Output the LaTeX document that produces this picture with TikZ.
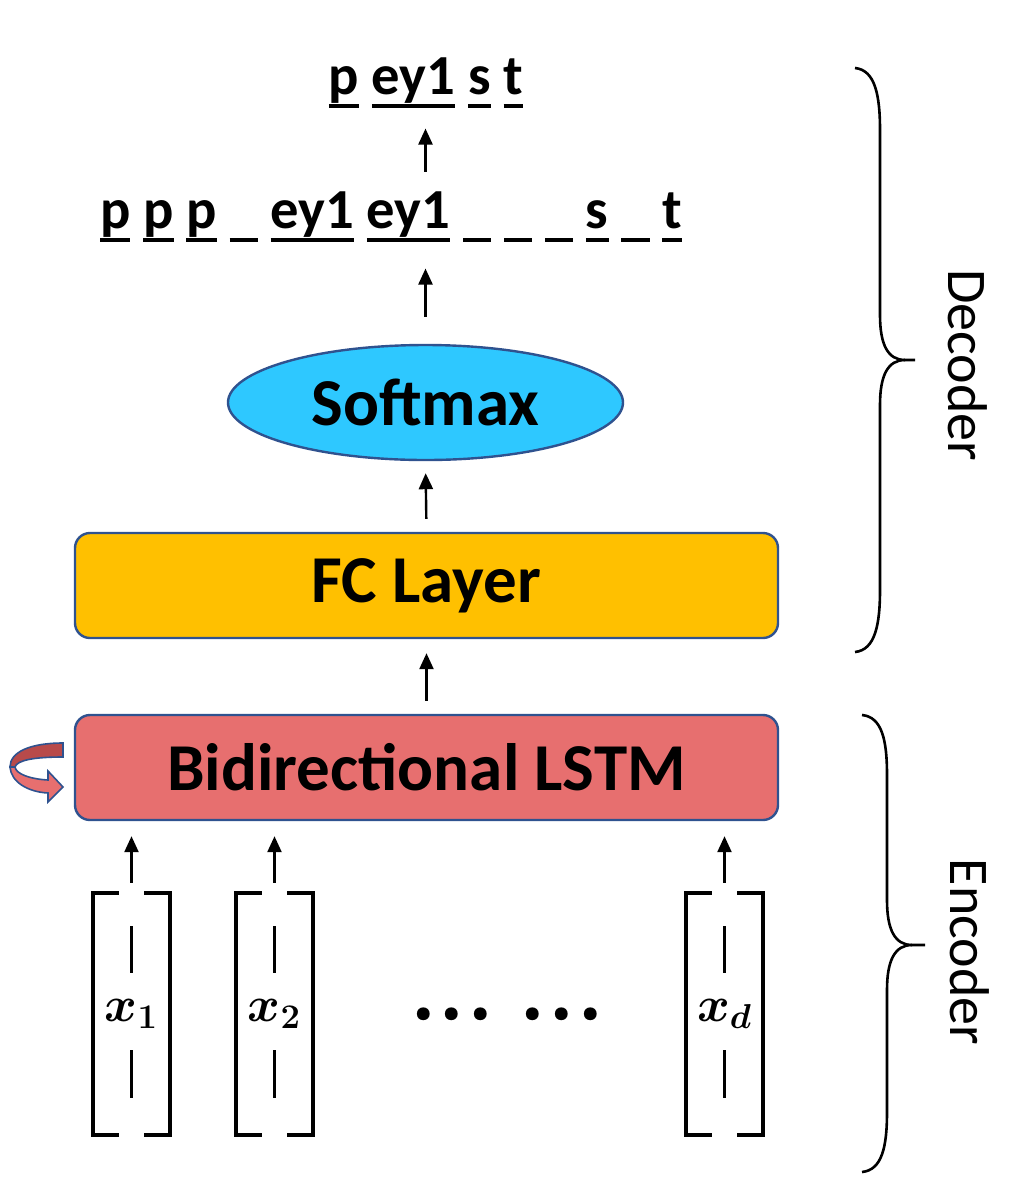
\documentclass[tikz,border=0pt]{standalone}
\usepackage{fontspec}
\setmainfont{Carlito}
\usetikzlibrary{shapes.geometric,arrows.meta}
\definecolor{lstmred}{RGB}{231,111,111}
\definecolor{fcgold}{RGB}{255,192,0}
\definecolor{smblue}{RGB}{46,200,255}
\definecolor{edgeblue}{RGB}{47,82,143}
\definecolor{loopdark}{RGB}{184,74,74}
\newsavebox{\tokbox}
\newcommand{\tok}[1]{\sbox\tokbox{#1}\rlap{\rule[-0.25em]{\wd\tokbox}{0.07em}}\usebox\tokbox}
\newcommand{\blank}{\tok{\phantom{\_}}}

\begin{document}
\begin{tikzpicture}[x=0.5pt,y=-0.5pt,
    layer/.style={draw=edgeblue, line width=1.2pt, rounded corners=7.5pt, minimum width=351.5pt, minimum height=52.5pt, font=\bfseries\fontsize{33.5}{40}\selectfont},
    arr/.style={-{Triangle[length=8pt,width=7pt]}, line width=1.2pt},
    seqtext/.style={inner sep=0pt, anchor=base, font=\bfseries\fontsize{28.3}{34}\selectfont},
    vec/.style={minimum width=38.5pt, minimum height=121pt, inner sep=0pt, font=\boldmath\fontsize{25}{30}\selectfont},
    brk/.style={line width=2pt, line join=miter},
    brc/.style={line width=1.3pt},
    part/.style={rotate=-90, font=\fontsize{28}{34}\selectfont}]
    \useasboundingbox (0,0) rectangle (1019,1190);

    % Output sequences
    \node[seqtext] (out) at (426,94) {\tok{p} \tok{ey1} \tok{s} \tok{t}};
    \node[seqtext] (seq) at (391,228) {\tok{p} \tok{p} \tok{p} \blank{} \tok{ey1} \tok{ey1} \blank{} \blank{} \blank{} \tok{s} \blank{} \tok{t}};

    % Decoder layers
    \node[ellipse, draw=edgeblue, fill=smblue, line width=1.2pt, minimum width=197.5pt, minimum height=57.5pt, font=\bfseries\fontsize{33.5}{40}\selectfont] (sm) at (425.5,402.5) {Softmax};
    \node[layer, fill=fcgold] (fc) at (426.5,585.5) {FC Layer};

    % Encoder
    \node[layer, fill=lstmred] (lstm) at (426.5,767.5) {Bidirectional LSTM};
    \node[vec] (v1) at (131.5,1014) {$x_1$};
    \node[vec] (v2) at (274.5,1014) {$x_2$};
    \node[vec] (vd) at (724.5,1014) {$x_d$};
    \node[font=\boldmath\fontsize{14}{17}\selectfont] (dots) at (507,1015) {${\bullet}\hspace{6pt}{\bullet}\hspace{6pt}{\bullet}\hspace{18pt}{\bullet}\hspace{6pt}{\bullet}\hspace{6pt}{\bullet}$};

    % Arrows
    \draw[arr, shorten <=6.5pt, shorten >=7pt] (lstm.north) -- (fc.south);
    \draw[arr, shorten <=6.5pt, shorten >=6pt] (fc.north) -- (sm.south);
    \draw[arr, shorten <=13.5pt, shorten >=13pt] (sm.north) -- (sm.north |- seq.south);
    \draw[arr, shorten <=9.5pt, shorten >=10pt] (sm.north |- seq.north) -- (sm.north |- out.south);
    \foreach \v in {v1,v2,vd} \draw[arr, shorten <=5pt, shorten >=7.5pt] (\v.north) -- (\v.north |- lstm.south);

    % Vector brackets
    \foreach \v in {v1,v2,vd} {
        \draw[brk] ([xshift=13pt]\v.north west) -- (\v.north west) -- (\v.south west) -- ([xshift=13pt]\v.south west); % left bracket
        \draw[brk] ([xshift=-13pt]\v.north east) -- (\v.north east) -- (\v.south east) -- ([xshift=-13pt]\v.south east); % right bracket
        \draw[line width=1.3pt] ([yshift=44pt]\v.center) -- ([yshift=20.5pt]\v.center); % upper dash
        \draw[line width=1.3pt] ([yshift=-18pt]\v.center) -- ([yshift=-42pt]\v.center); % lower dash
    }

    % Recurrent loop
    \filldraw[draw=edgeblue, fill=loopdark, line width=0.8pt] (63,743) .. controls (30,743) and (10,752) .. (10,767) -- (15,767) .. controls (17,760) and (35,757) .. (63,757) -- cycle; % back of the loop
    \filldraw[draw=edgeblue, fill=lstmred, line width=0.8pt] (10,767) .. controls (11,782) and (28,792) .. (48,793) -- (48,802) -- (63,787) -- (48,771) -- (48,780) .. controls (30,779) and (16,774) .. (15,767) -- cycle; % front with head

    % Braces
    \draw[brc] (855,68) .. controls (875,70) and (880,95) .. (880,130) -- (880,315) .. controls (880,345) and (888,360) .. (905,360) -- (915,360); % decoder upper half
    \draw[brc] (905,360) .. controls (888,360) and (880,375) .. (880,405) -- (880,590) .. controls (880,625) and (875,650) .. (855,652); % decoder lower half
    \draw[brc] (862,715) .. controls (882,717) and (887,740) .. (887,775) -- (887,900) .. controls (887,930) and (895,945) .. (912,945) -- (925,945); % encoder upper half
    \draw[brc] (912,945) .. controls (895,945) and (887,960) .. (887,990) -- (887,1112) .. controls (887,1147) and (882,1170) .. (862,1172); % encoder lower half
    \node[part] (dec) at (968,365) {Decoder};
    \node[part] (enc) at (970,952) {Encoder};
\end{tikzpicture}
\end{document}
